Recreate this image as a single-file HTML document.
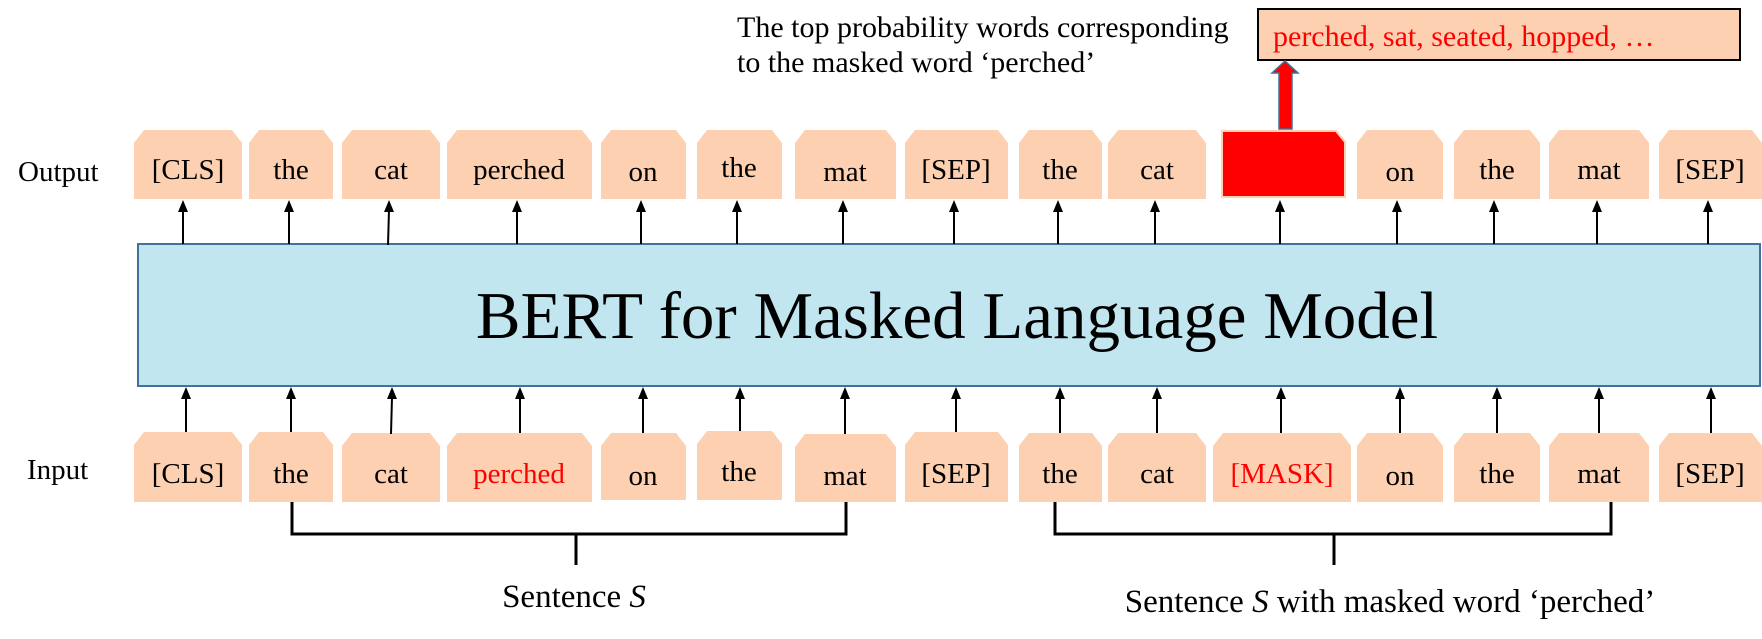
<!DOCTYPE html>
<html><head><meta charset="utf-8"><style>
html,body{margin:0;padding:0;background:#fff;}
svg{display:block;font-family:"Liberation Serif",serif;}
</style></head><body>
<svg width="1762" height="639" viewBox="0 0 1762 639" xmlns="http://www.w3.org/2000/svg">
<text x="737" y="37" font-size="30">The top probability words corresponding</text>
<text x="737" y="72" font-size="30">to the masked word ‘perched’</text>
<rect x="1258" y="9" width="482" height="51" fill="#fcd0b0" stroke="#000" stroke-width="2"/>
<text x="1273" y="46" font-size="30" fill="#f00">perched, sat, seated, hopped, …</text>
<polygon points="1285,61 1298,73 1292,73 1292,129 1279,129 1279,73 1272,73" fill="#f00" stroke="#41719c" stroke-width="1.5"/>

<text x="18" y="181" font-size="29">Output</text>
<text x="27" y="479" font-size="29">Input</text>

<rect x="138" y="244" width="1622" height="142" fill="#c2e6ef" stroke="#41719c" stroke-width="2"/>
<text x="957" y="338" font-size="67" text-anchor="middle">BERT for Masked Language Model</text>

<g font-size="29" text-anchor="middle">
<g fill="#fcd0b0">
<polygon points="144,130 232,130 242,143 242,199 134,199 134,143"/>
<polygon points="259,130 323,130 333,143 333,199 249,199 249,143"/>
<polygon points="352,130 430,130 440,143 440,199 342,199 342,143"/>
<polygon points="457,130 582,130 592,143 592,199 447,199 447,143"/>
<polygon points="611,130 676,130 686,143 686,199 601,199 601,143"/>
<polygon points="707,130 772,130 782,143 782,199 697,199 697,143"/>
<polygon points="805,130 886,130 896,143 896,199 795,199 795,143"/>
<polygon points="915,130 998,130 1008,143 1008,199 905,199 905,143"/>
<polygon points="1029,130 1092,130 1102,143 1102,199 1019,199 1019,143"/>
<polygon points="1118,130 1196,130 1206,143 1206,199 1108,199 1108,143"/>
<polygon points="1367,130 1433,130 1443,143 1443,199 1357,199 1357,143"/>
<polygon points="1464,130 1530,130 1540,143 1540,199 1454,199 1454,143"/>
<polygon points="1559,130 1639,130 1649,143 1649,199 1549,199 1549,143"/>
<polygon points="1669,130 1752,130 1762,143 1762,199 1659,199 1659,143"/>
</g>
<polygon points="1222,131 1336,131 1345,142 1345,197 1222,197 1222,140" fill="#f00" stroke="#fcd0b0" stroke-width="2"/>
<text x="188" y="179">[CLS]</text>
<text x="291" y="179">the</text>
<text x="391" y="179">cat</text>
<text x="519" y="179">perched</text>
<text x="643" y="181">on</text>
<text x="739" y="177">the</text>
<text x="845" y="181">mat</text>
<text x="956" y="179">[SEP]</text>
<text x="1060" y="179">the</text>
<text x="1157" y="179">cat</text>
<text x="1400" y="181">on</text>
<text x="1497" y="179">the</text>
<text x="1599" y="179">mat</text>
<text x="1710" y="179">[SEP]</text>

<g fill="#fcd0b0">
<polygon points="144,432 232,432 242,445 242,502 134,502 134,445"/>
<polygon points="259,432 323,432 333,445 333,502 249,502 249,445"/>
<polygon points="352,433 430,433 440,446 440,502 342,502 342,446"/>
<polygon points="457,433 582,433 592,446 592,502 447,502 447,446"/>
<polygon points="611,433 676,433 686,446 686,500 601,500 601,446"/>
<polygon points="707,431 772,431 782,444 782,500 697,500 697,444"/>
<polygon points="805,434 886,434 896,447 896,502 795,502 795,447"/>
<polygon points="915,432 998,432 1008,445 1008,502 905,502 905,445"/>
<polygon points="1029,433 1092,433 1102,446 1102,502 1019,502 1019,446"/>
<polygon points="1118,433 1196,433 1206,446 1206,502 1108,502 1108,446"/>
<polygon points="1223,433 1341,433 1351,446 1351,502 1213,502 1213,446"/>
<polygon points="1367,433 1433,433 1443,446 1443,502 1357,502 1357,446"/>
<polygon points="1464,433 1530,433 1540,446 1540,502 1454,502 1454,446"/>
<polygon points="1559,433 1639,433 1649,446 1649,502 1549,502 1549,446"/>
<polygon points="1669,433 1752,433 1762,446 1762,502 1659,502 1659,446"/>
</g>
<text x="188" y="483">[CLS]</text>
<text x="291" y="483">the</text>
<text x="391" y="483">cat</text>
<text x="519" y="483" fill="#f00">perched</text>
<text x="643" y="485">on</text>
<text x="739" y="481">the</text>
<text x="845" y="485">mat</text>
<text x="956" y="483">[SEP]</text>
<text x="1060" y="483">the</text>
<text x="1157" y="483">cat</text>
<text x="1282" y="483" fill="#f00">[MASK]</text>
<text x="1400" y="485">on</text>
<text x="1497" y="483">the</text>
<text x="1599" y="483">mat</text>
<text x="1710" y="483">[SEP]</text>
</g>

<g fill="#000" stroke="#000" stroke-width="2">
<line x1="183" y1="244" x2="183" y2="210"/><polygon points="183,200 178,212 188,212" stroke="none"/>
<line x1="289" y1="244" x2="289" y2="210"/><polygon points="289,200 284,212 294,212" stroke="none"/>
<line x1="388" y1="245" x2="389" y2="210"/><polygon points="389,200 384,212 394,212" stroke="none"/>
<line x1="517" y1="244" x2="517" y2="210"/><polygon points="517,200 512,212 522,212" stroke="none"/>
<line x1="641" y1="244" x2="641" y2="210"/><polygon points="641,200 636,212 646,212" stroke="none"/>
<line x1="737" y1="244" x2="737" y2="210"/><polygon points="737,200 732,212 742,212" stroke="none"/>
<line x1="843" y1="244" x2="843" y2="210"/><polygon points="843,200 838,212 848,212" stroke="none"/>
<line x1="954" y1="244" x2="954" y2="210"/><polygon points="954,200 949,212 959,212" stroke="none"/>
<line x1="1058" y1="244" x2="1058" y2="210"/><polygon points="1058,200 1053,212 1063,212" stroke="none"/>
<line x1="1155" y1="244" x2="1155" y2="210"/><polygon points="1155,200 1150,212 1160,212" stroke="none"/>
<line x1="1280" y1="244" x2="1280" y2="210"/><polygon points="1280,200 1275,212 1285,212" stroke="none"/>
<line x1="1397" y1="244" x2="1397" y2="210"/><polygon points="1397,200 1392,212 1402,212" stroke="none"/>
<line x1="1494" y1="244" x2="1494" y2="210"/><polygon points="1494,200 1489,212 1499,212" stroke="none"/>
<line x1="1597" y1="244" x2="1597" y2="210"/><polygon points="1597,200 1592,212 1602,212" stroke="none"/>
<line x1="1708" y1="244" x2="1708" y2="210"/><polygon points="1708,200 1703,212 1713,212" stroke="none"/>
<line x1="186" y1="432" x2="186" y2="397"/><polygon points="186,387 181,399 191,399" stroke="none"/>
<line x1="291" y1="432" x2="291" y2="397"/><polygon points="291,387 286,399 296,399" stroke="none"/>
<line x1="391" y1="434" x2="392" y2="397"/><polygon points="392,387 387,399 397,399" stroke="none"/>
<line x1="520" y1="433" x2="520" y2="397"/><polygon points="520,387 515,399 525,399" stroke="none"/>
<line x1="643" y1="433" x2="643" y2="397"/><polygon points="643,387 638,399 648,399" stroke="none"/>
<line x1="740" y1="431" x2="740" y2="397"/><polygon points="740,387 735,399 745,399" stroke="none"/>
<line x1="845" y1="434" x2="845" y2="397"/><polygon points="845,387 840,399 850,399" stroke="none"/>
<line x1="956" y1="432" x2="956" y2="397"/><polygon points="956,387 951,399 961,399" stroke="none"/>
<line x1="1060" y1="433" x2="1060" y2="397"/><polygon points="1060,387 1055,399 1065,399" stroke="none"/>
<line x1="1157" y1="433" x2="1157" y2="397"/><polygon points="1157,387 1152,399 1162,399" stroke="none"/>
<line x1="1281" y1="433" x2="1281" y2="397"/><polygon points="1281,387 1276,399 1286,399" stroke="none"/>
<line x1="1400" y1="433" x2="1400" y2="397"/><polygon points="1400,387 1395,399 1405,399" stroke="none"/>
<line x1="1497" y1="433" x2="1497" y2="397"/><polygon points="1497,387 1492,399 1502,399" stroke="none"/>
<line x1="1599" y1="433" x2="1599" y2="397"/><polygon points="1599,387 1594,399 1604,399" stroke="none"/>
<line x1="1711" y1="433" x2="1711" y2="397"/><polygon points="1711,387 1706,399 1716,399" stroke="none"/>
</g>

<g stroke="#000" stroke-width="3" fill="none">
<polyline points="292,502 292,534 846,534 846,502"/>
<line x1="576" y1="534" x2="576" y2="565"/>
<polyline points="1055,502 1055,534 1611,534 1611,502"/>
<line x1="1334" y1="534" x2="1334" y2="565"/>
</g>
<text x="574" y="607" font-size="33" text-anchor="middle">Sentence <tspan font-style="italic">S</tspan></text>
<text x="1390" y="612" font-size="33" text-anchor="middle">Sentence <tspan font-style="italic">S</tspan> with masked word ‘perched’</text>
</svg>
</body></html>
